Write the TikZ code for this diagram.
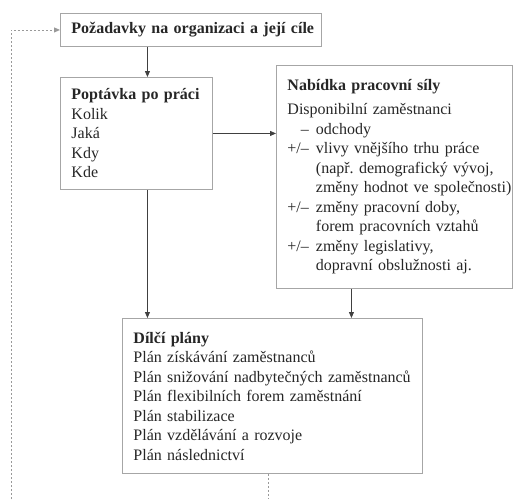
\documentclass[tikz,border=0pt]{standalone}
\usepackage{fontspec}
\setmainfont{Liberation Serif}
\usetikzlibrary{arrows.meta}

\tikzset{
  box/.style={draw=gray!70, line width=0.9pt, anchor=north west, inner xsep=11pt, inner ysep=0pt,
    align=left, font=\fontsize{16}{19.5}\selectfont, text=black!85},
  arr/.style={draw=black!75, line width=0.8pt, -{Triangle[length=6pt,width=5pt]}},
  fbline/.style={draw=gray!80, line width=0.9pt, dash pattern=on 2pt off 2pt},
  fback/.style={fbline, -{Triangle[length=6pt,width=5pt]}},
}

\begin{document}
\begin{tikzpicture}[x=1pt,y=-1pt]
	\useasboundingbox (0,0) rectangle (513,499);
	
	\node[box, minimum width=261pt, minimum height=33pt, text width=239pt] (req) at (60,13)
		{\mbox{\textbf{Požadavky na organizaci a její cíle}}};
	\node[box, minimum width=152pt, minimum height=112pt, text width=130pt] (popt) at (60,77)
		{\textbf{Poptávka po práci}\\Kolik\\Jaká\\Kdy\\Kde};
	\node[box, minimum width=236pt, minimum height=223pt, text width=214pt] (nab) at (276,65)
		{\begin{tabular}[t]{@{}r@{\hspace{7pt}}l@{}}
		\multicolumn{2}{@{}l@{}}{\textbf{Nabídka pracovní síly}}\\[4.5pt]
		\multicolumn{2}{@{}l@{}}{Disponibilní zaměstnanci}\\
		–   & odchody\\
		+/– & vlivy vnějšího trhu práce\\
		    & (např.\ demografický vývoj,\\
		    & změny hodnot ve společnosti)\\
		+/– & změny pracovní doby,\\
		    & forem pracovních vztahů\\
		+/– & změny legislativy,\\
		    & dopravní obslužnosti aj.
		\end{tabular}};
	\node[box, minimum width=300pt, minimum height=155pt, text width=278pt] (dil) at (122,318)
		{\textbf{Dílčí plány}\\Plán získávání zaměstnanců\\Plán snižování nadbytečných zaměstnanců\\
		Plán flexibilních forem zaměstnání\\Plán stabilizace\\Plán vzdělávání a rozvoje\\Plán následnictví};
	
	\coordinate (fbl) at (11,499);
	\coordinate (fbd) at (268,499);
	
	\draw[arr] ([xshift=11pt]popt.north |- req.south) -- ([xshift=11pt]popt.north);
	\draw[arr] (popt.east) -- (popt.east -| nab.west);
	\draw[arr] ([xshift=11pt]popt.south) -- ([xshift=11pt]popt.south |- dil.north);
	\draw[arr] ([xshift=-43pt]nab.south) -- ([xshift=-43pt]nab.south |- dil.north);
	\draw[fbline] (dil.south -| fbd) -- (fbd);
	\draw[fback] (fbl) |- (req.west);
\end{tikzpicture}
\end{document}
